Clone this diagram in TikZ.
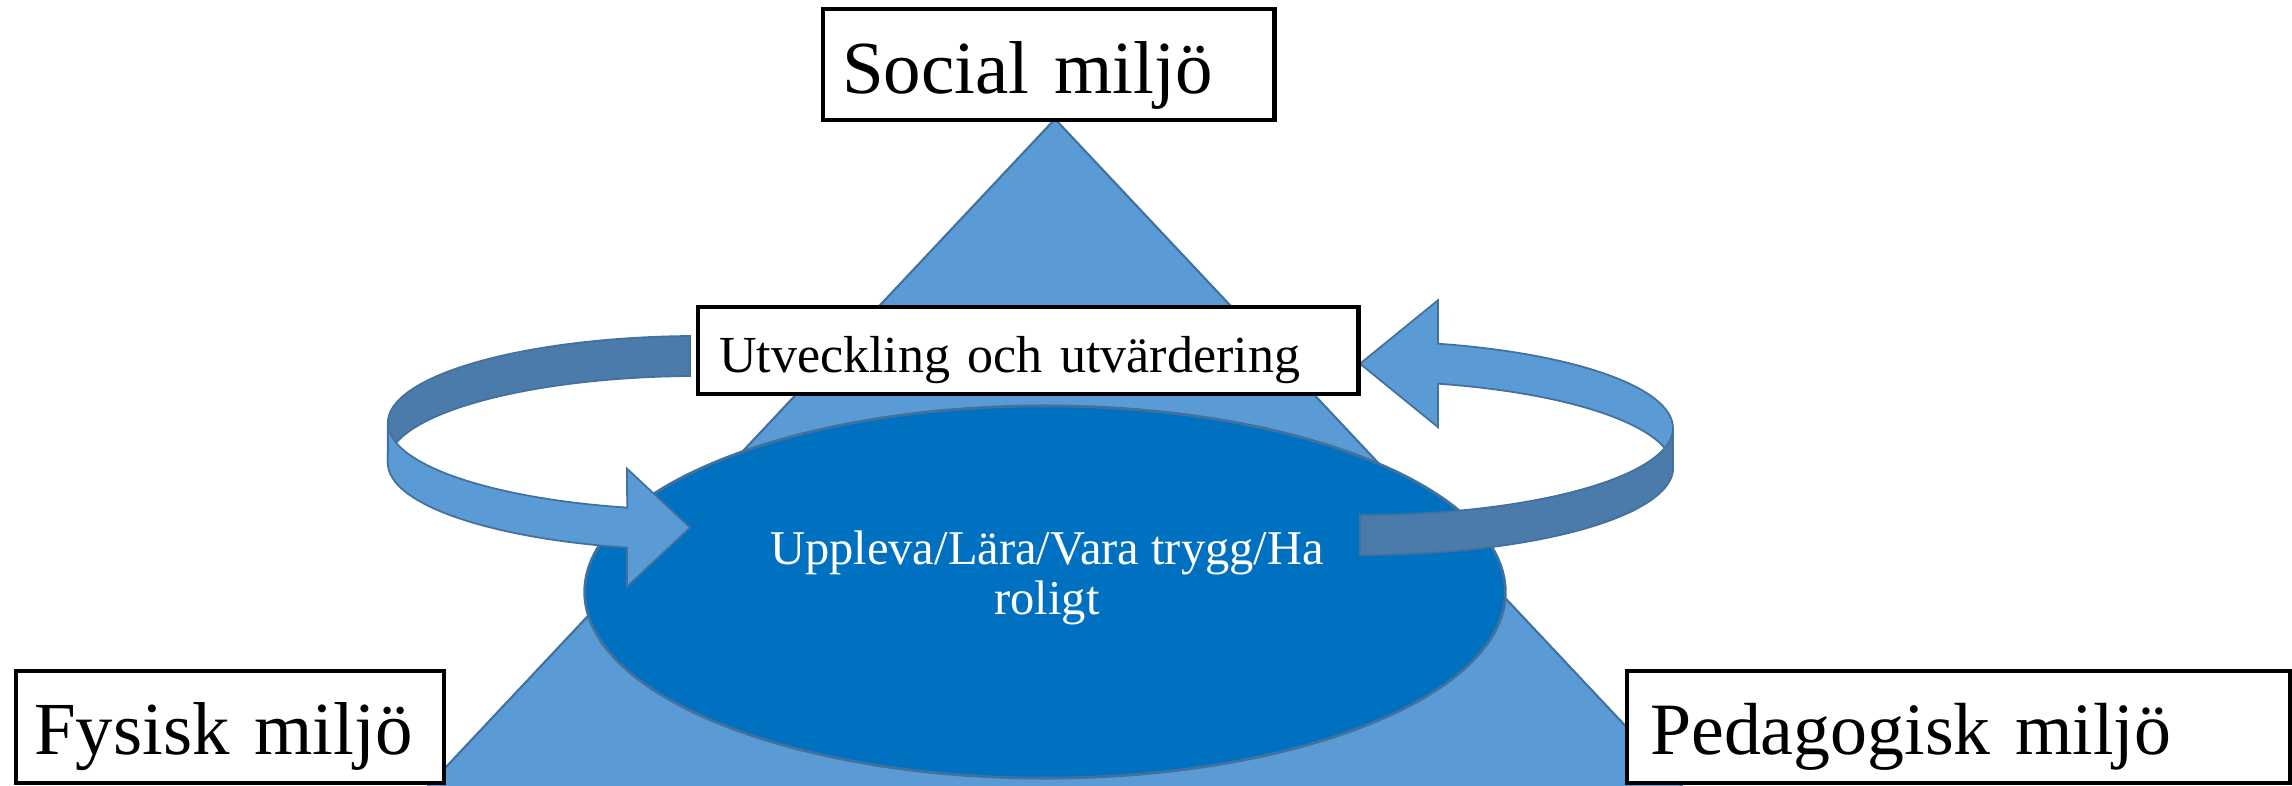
\documentclass[tikz,border=0pt]{standalone}
\usepackage{fontspec}
\setmainfont{Liberation Serif}
\usepackage{tikz}
\usetikzlibrary{shapes.geometric}

\definecolor{triblue}{HTML}{5B9BD5}
\definecolor{rimblue}{HTML}{41719C}
\definecolor{coreblue}{HTML}{0070C0}
\definecolor{shadeblue}{HTML}{4A7BAA}

\begin{document}
\begin{tikzpicture}[x=0.01cm,y=-0.01cm]
    \tikzstyle{every node}=[font=\rmfamily]
    \tikzstyle{envbox}=[draw=black, line width=1.2pt, fill=white, anchor=north west, inner ysep=0pt, align=left]
    \tikzstyle{lightband}=[fill=triblue, draw=rimblue, line width=0.5pt]
    \tikzstyle{darkband}=[fill=shadeblue, draw=rimblue, line width=0.5pt]

     \path[fill=white, use as bounding box] (0,0) rectangle (2292,785);

     \filldraw[fill=triblue, draw=rimblue, line width=0.6pt] (1055,119) -- (1695,800) -- (415,800) -- cycle;

     \node[ellipse, fill=coreblue, draw=rimblue, line width=0.8pt, minimum width=9.2cm, minimum height=3.72cm, inner sep=0pt] (core) at (1045,592) {};
     \node[text=white, align=center, font=\fontsize{13.8}{14.2}\selectfont] (coretext) at (1047,578) {Uppleva/Lära/Vara trygg/Ha\\roligt};

     \filldraw[darkband] (690,336) arc[start angle=-91.8, end angle=-180, x radius=312, y radius=87] -- ++(0,40)
        arc[start angle=180, end angle=268.2, x radius=312, y radius=87] -- cycle;
     \filldraw[lightband] (388,423) arc[start angle=180, end angle=103.5, x radius=312, y radius=87] -- (627,468.6) -- (690,527.6) -- (627,586.6) -- (627,547.6)
        arc[start angle=103.5, end angle=180, x radius=312, y radius=87] -- cycle;

     \filldraw[lightband] (1438,343.7) arc[start angle=-75.7, end angle=0, x radius=312, y radius=87] -- ++(0,40)
        arc[start angle=0, end angle=-75.7, x radius=312, y radius=87] -- (1438,427.2) -- (1360,363.7) -- (1438,300.2) -- cycle;
     \filldraw[darkband] (1360,515) arc[start angle=90.2, end angle=0, x radius=312, y radius=87] -- ++(0,40)
        arc[start angle=0, end angle=90.2, x radius=312, y radius=87] -- cycle;

     \node[envbox, text width=4.13cm, inner xsep=0.19cm, text height=0.846cm, text depth=0.264cm, font=\fontsize{21.3}{25}\selectfont] (social) at (821,7) {Social miljö};
     \node[envbox, text width=6.18cm, inner xsep=0.21cm, text height=0.65cm, text depth=0.22cm, font=\fontsize{14.8}{18}\selectfont] (utveckling) at (696,305) {Utveckling och utvärdering};
     \node[envbox, text width=3.92cm, inner xsep=0.18cm, text height=0.83cm, text depth=0.29cm, font=\fontsize{21.3}{25}\selectfont] (fysisk) at (14,669) {Fysisk miljö};
     \node[envbox, text width=6.17cm, inner xsep=0.23cm, text height=0.83cm, text depth=0.29cm, font=\fontsize{21}{25}\selectfont] (pedagogisk) at (1625,669) {Pedagogisk miljö};
\end{tikzpicture}
\end{document}
